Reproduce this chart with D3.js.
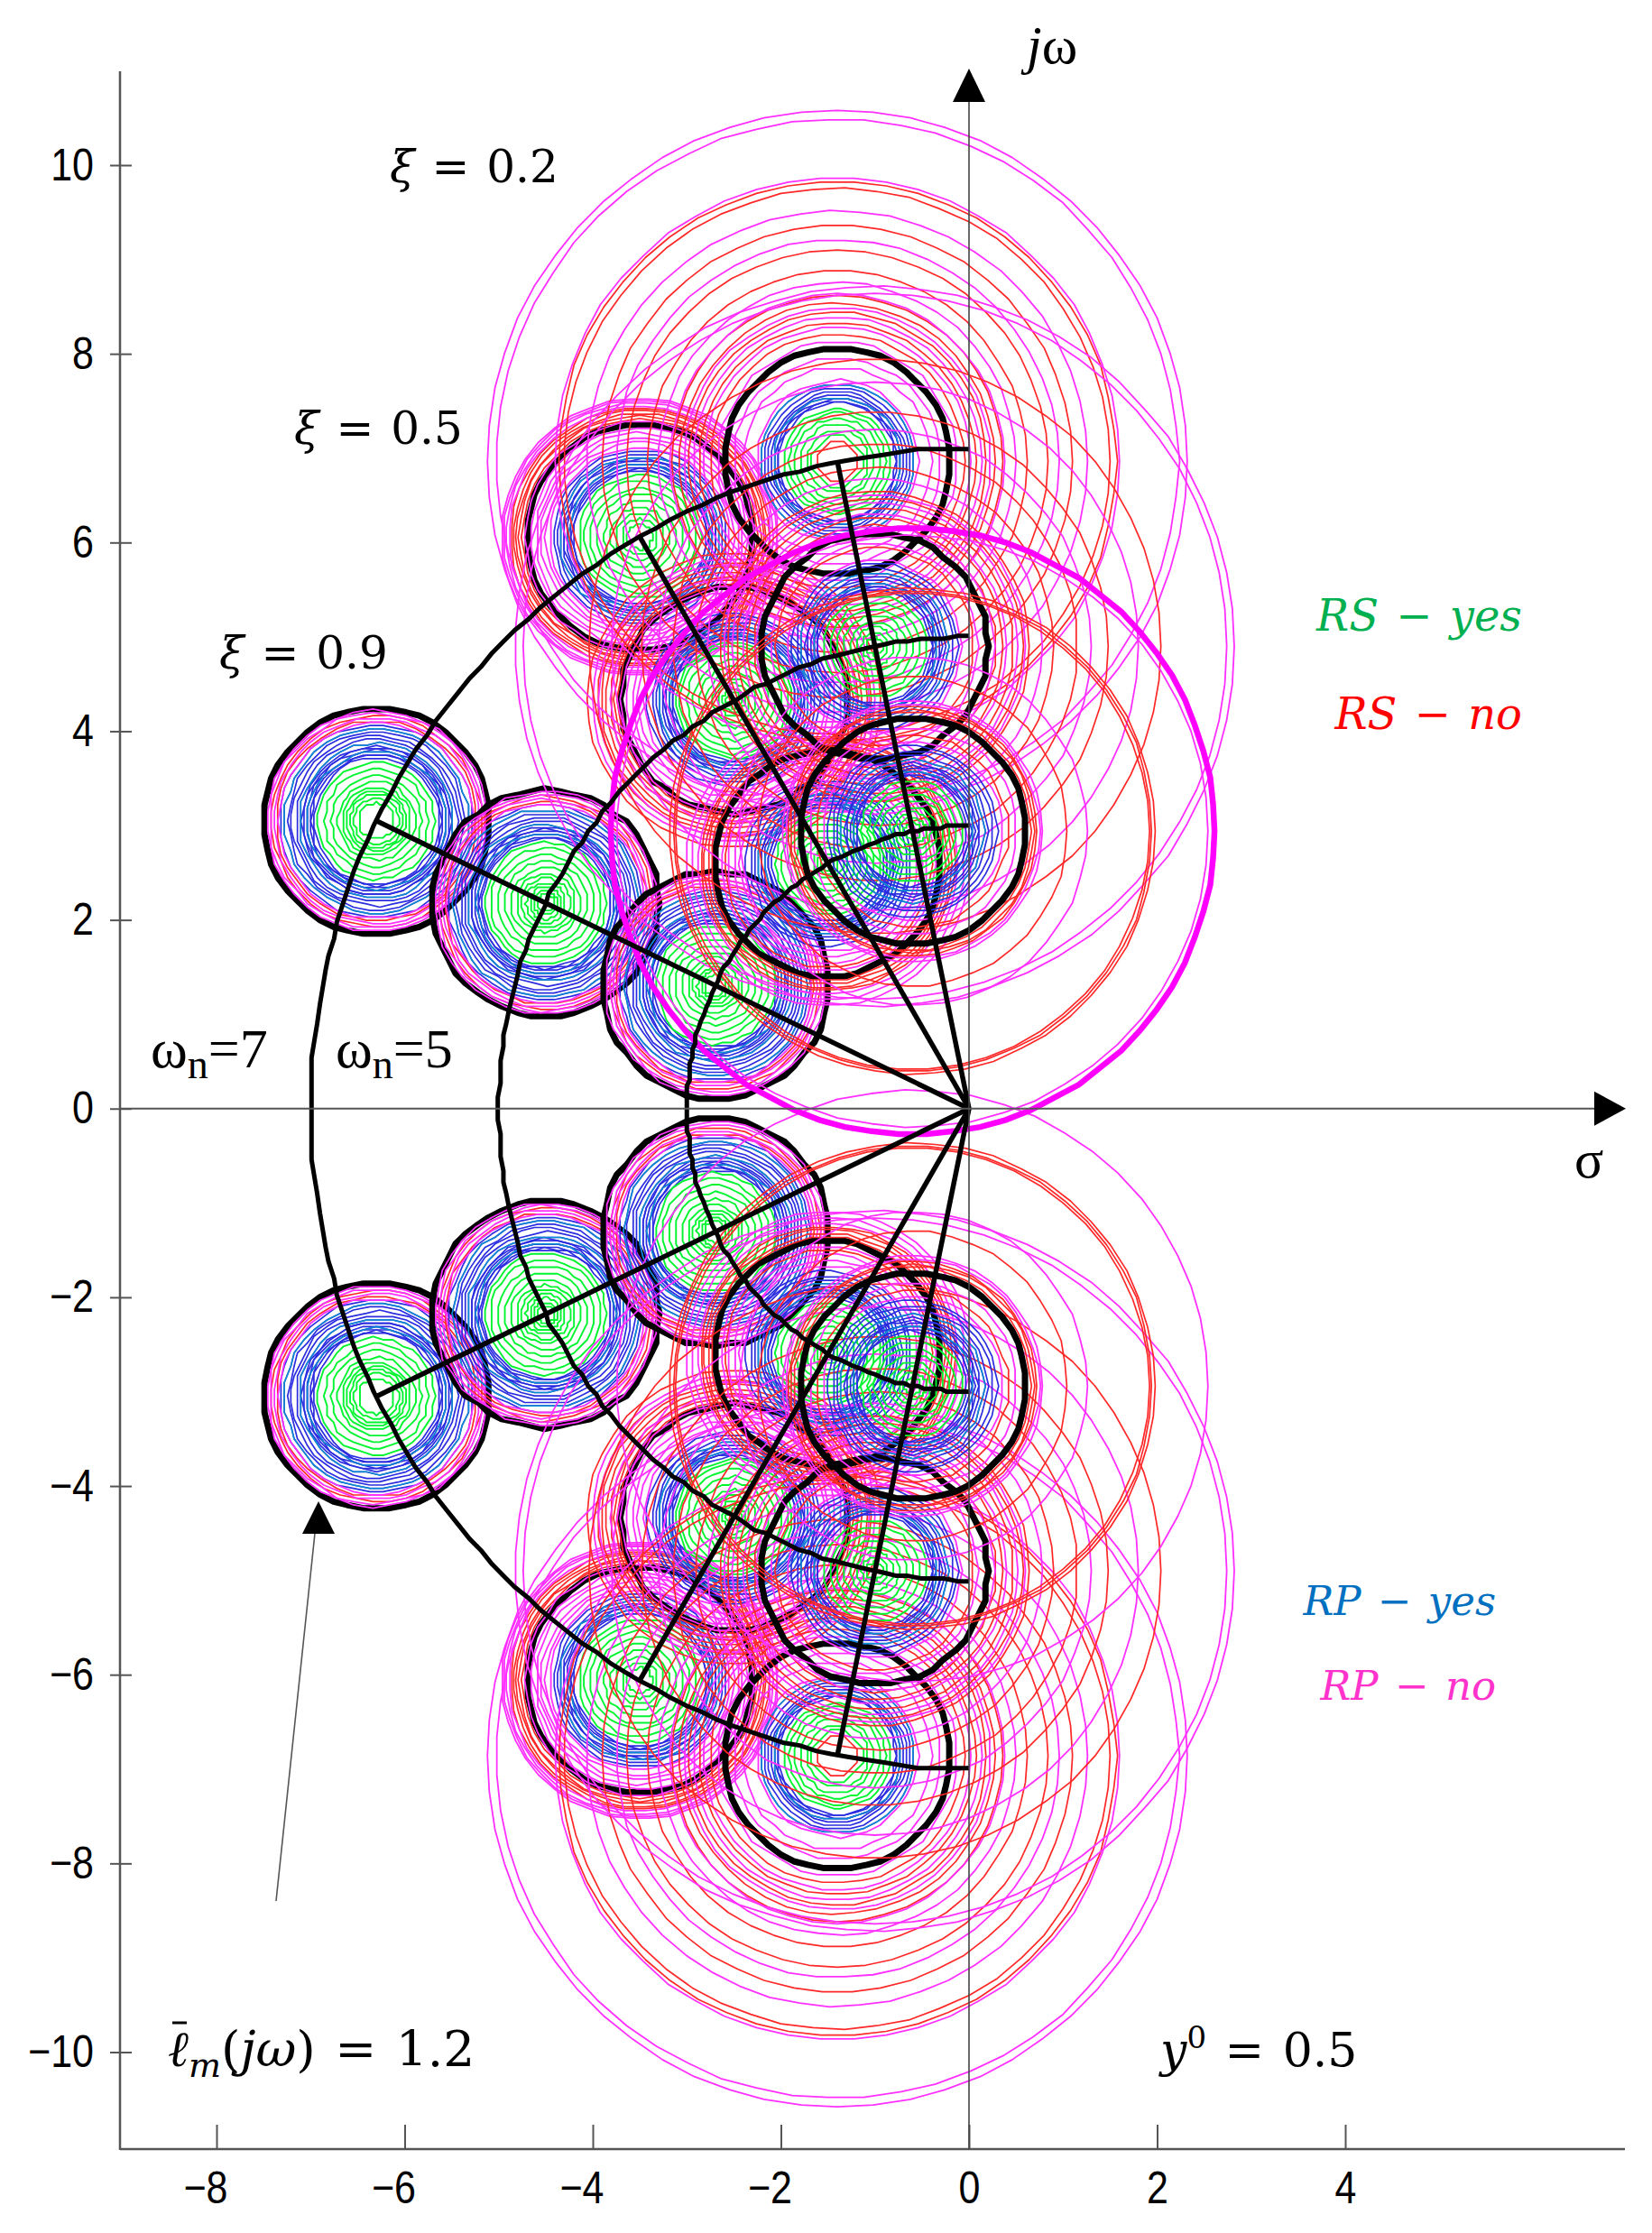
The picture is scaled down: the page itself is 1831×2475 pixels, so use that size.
<!DOCTYPE html>
<html>
<head>
<meta charset="utf-8">
<script src="https://cdn.jsdelivr.net/npm/d3@7"></script>
<style>
  html, body { margin: 0; background: #fff; }
  svg { display: block; }
  .tick text { font-family: "Liberation Sans", Arial, sans-serif; font-size: 50px; fill: #000; }
  .math { font-family: "DejaVu Serif", serif; }
  .times { font-family: "Liberation Serif", serif; }
</style>
</head>
<body>
<div id="chart"></div>
<script>
// upper half poles, the lower half is the mirror image
const poleRe = [-6.3, -4.5, -2.7, -3.5, -2.5, -1.5, -1.4, -1.0, -0.6];
const poleIm = [3.05, 2.18, 1.31, 6.06, 4.33, 2.60, 6.86, 4.90, 2.94];

const blackRadius = 1.2;

// radii of the ring families, one row per pole
const greenRings = [
  [.19, .24, .28, .32, .36, .41, .48, .55, .62],
  [.09, .13, .17, .21, .26, .31, .37, .44, .51, .58, .64],
  [.11, .15, .19, .24, .29, .35, .42, .49, .56, .63],
  [.13, .19, .25, .31, .38, .45, .52, .59, .65],
  [.08, .12, .17, .23, .29, .36, .43, .5, .57, .61],
  [.07, .11, .16, .22, .28, .35, .42, .49, .55],
  [.27, .33, .39, .45, .51, .56],
  [.09, .14, .2, .26, .33, .4, .47, .54],
  [.09, .14, .2, .26, .33, .4, .47, .54]
];
const blueRings = [
  [.67, .69, .71, .73, .75, .77, .79, .82, .86, .9, .94, .98, 1.02],
  [.68, .70, .72, .74, .76, .78, .80, .83, .87, .91, .95, .99, 1.03],
  [.66, .68, .70, .72, .74, .76, .78, .81, .85, .89, .93, .97, 1.01],
  [.7, .72, .74, .76, .78, .8, .82, .85, .88, .92],
  [.64, .66, .68, .70, .72, .74, .76, .79, .83, .87, .92],
  [.6, .62, .64, .66, .68, .70, .72, .75, .79, .83, .88],
  [.62, .64, .66, .68, .70, .73, .77, .81],
  [.6, .62, .64, .66, .68, .71, .74, .78, .83, .88],
  [.58, .60, .62, .64, .66, .69, .72, .76, .8, .85, .9]
];
const redRings = [
  [1.06, 1.12],
  [1.07, 1.13],
  [1.05, 1.11],
  [1.25, 1.28, 1.31, 1.34, 1.37],
  [1.23, 1.27, 1.31, 1.36, 1.41, 1.45, 1.56],
  [1.1, 1.24, 1.28, 1.32, 1.35],
  [.21, 1.35, 1.47, 1.58, 1.68, 1.76, 2.02, 2.24, 2.5, 2.9, 2.97],
  [1.05, 1.28, 1.36, 1.47, 1.57, 1.64, 1.9, 2.15, 2.48, 3.05],
  [1.02, 1.26, 1.29, 1.32, 1.64, 2.52, 2.55, 2.58]
];
const magentaRings = [
  [1.04, 1.09, 1.14, 1.17],
  [1.05, 1.1, 1.15, 1.18],
  [1.03, 1.08, 1.13, 1.17],
  [.95, 1.0, 1.05, 1.1, 1.15, 1.22, 1.39, 1.42, 1.45, 1.47],
  [.96, 1.02, 1.08, 1.14, 1.2, 1.3, 1.44, 1.5],
  [.94, 1.0, 1.06, 1.14, 1.38, 1.45, 1.51],
  [.86, 1.0, 1.1, 1.27, 1.42, 1.53, 1.63, 1.78, 1.9, 2.35, 2.66, 3.01, 3.63, 3.72],
  [.92, 1.1, 1.27, 1.4, 1.52, 1.6, 1.78, 2.3, 2.8, 3.74, 3.82],
  [.95, 1.1, 1.35, 1.38, 1.85, 3.14]
];

const omegaN = [7, 5, 3];
const thickRing = { re: -0.6, im: 2.94, r: 3.21 };
const xTicks = [-8, -6, -4, -2, 0, 2, 4];
const yTicks = [-10, -8, -6, -4, -2, 0, 2, 4, 6, 8, 10];

const colors = { green: '#00f530', blue: '#2c2ce0', teal: '#0a8fd0', red: '#ff2828', magenta: '#ff30ff' };

const width = 1831, height = 2475;
const x = d3.scaleLinear().domain([-8, 4]).range([240, 1491]);
const y = d3.scaleLinear().domain([-10, 10]).range([2274.5, 183]);

const svg = d3.select('#chart').append('svg')
  .attr('width', width).attr('height', height)
  .attr('viewBox', `0 0 ${width} ${height}`);

svg.append('rect').attr('width', width).attr('height', height).attr('fill', '#fff');

const line = d3.line().x(d => x(d[0])).y(d => y(d[1]));

// jagged polygon like the original plot, vertices snapped to a coarse grid
function ring(cx, cy, r, grid, n) {
  n = n || Math.round(30 + 8 * r);
  const snap = v => Math.round(v / grid) * grid;
  const pts = d3.range(n).map(i => {
    const a = 2 * Math.PI * i / n;
    return [snap(cx + r * Math.cos(a)), snap(cy + r * Math.sin(a))];
  });
  return line(pts) + 'Z';
}

function drawRings(g, cx, cy, radii, color, w) {
  g.selectAll(null).data(radii).enter().append('path')
    .attr('d', r => ring(cx, cy, r, r > 1.3 ? 0.02 : 0.035))
    .attr('fill', 'none').attr('stroke', color).attr('stroke-width', w)
    .attr('stroke-linejoin', 'round');
}

const plot = svg.append('g').attr('class', 'plot');

[1, -1].forEach(sign => {
  poleRe.forEach((re, i) => {
    const im = poleIm[i] * sign;
    plot.append('path').attr('d', ring(re, im, blackRadius, 0.035, 48))
      .attr('fill', 'none').attr('stroke', '#000').attr('stroke-width', 7)
      .attr('stroke-linejoin', 'round');
    const g = plot.append('g');
    drawRings(g, re, im, blueRings[i], colors.blue, 1.7);
    drawRings(g, re, im, blueRings[i].filter((r, k) => k % 4 === 3), colors.teal, 1.5);
    drawRings(g, re, im, redRings[i], colors.red, 1.7);
    drawRings(g, re, im, magentaRings[i], colors.magenta, 1.8);
    drawRings(g, re, im, greenRings[i], colors.green, 1.9);
  });
});

// only the upper half has the heavy ring
plot.append('path').attr('d', ring(thickRing.re, thickRing.im, thickRing.r, 0.015, 70))
  .attr('fill', 'none').attr('stroke', '#ff00ff').attr('stroke-width', 6.5);

// radial lines and omega_n arcs
const black = svg.append('g').attr('class', 'root-locus');
[1, -1].forEach(sign => {
  [0, 3, 6].forEach(i => {
    black.append('path').attr('d', line([[0, 0], [poleRe[i], poleIm[i] * sign]]))
      .attr('fill', 'none').attr('stroke', '#000').attr('stroke-width', 5.5);
  });
});
omegaN.forEach(w => {
  const snap = v => Math.round(v / 0.03) * 0.03;
  const pts = d3.range(0, 121).map(i => {
    const a = Math.PI / 2 + Math.PI * i / 120;
    return [snap(w * Math.cos(a)), snap(w * Math.sin(a))];
  });
  black.append('path').attr('d', line(pts))
    .attr('fill', 'none').attr('stroke', '#000').attr('stroke-width', 5)
    .attr('stroke-linejoin', 'round');
});

// axes
const gray = '#555';
const spineLeft = 133, spineBottom = 2382;
const fmt = d => String(d).replace('-', '\u2212');
const yAxis = svg.append('g').attr('transform', `translate(${spineLeft},0)`)
  .call(d3.axisLeft(y).tickValues(yTicks).tickSize(12).tickFormat(fmt));
yAxis.select('.domain').remove();
yAxis.selectAll('.tick line').attr('x1', -11).attr('x2', 13).attr('stroke', gray).attr('stroke-width', 2);
yAxis.selectAll('.tick text').attr('x', 0).attr('transform', 'translate(-29,0) scale(0.86,1)');

const xAxis = svg.append('g').attr('transform', `translate(0,${spineBottom})`)
  .call(d3.axisBottom(x).tickValues(xTicks).tickSizeInner(-27).tickSizeOuter(0).tickFormat(fmt));
xAxis.select('.domain').remove();
xAxis.selectAll('.tick line').attr('stroke', gray).attr('stroke-width', 2);
xAxis.selectAll('.tick text').attr('text-anchor', 'end').attr('x', 0).attr('y', 0).attr('dy', '0.71em')
  .attr('transform', 'translate(12,24) scale(0.86,1)');

svg.append('line').attr('x1', spineLeft).attr('x2', spineLeft).attr('y1', 79).attr('y2', spineBottom + 1)
  .attr('stroke', gray).attr('stroke-width', 2.5);
svg.append('line').attr('x1', spineLeft).attr('x2', 1801).attr('y1', spineBottom).attr('y2', spineBottom)
  .attr('stroke', gray).attr('stroke-width', 2.5);

// the sigma and j-omega axes with arrow heads
svg.append('line').attr('x1', x(0)).attr('x2', x(0)).attr('y1', 112).attr('y2', spineBottom)
  .attr('stroke', '#444').attr('stroke-width', 1.6);
svg.append('line').attr('x1', spineLeft).attr('x2', 1770).attr('y1', y(0)).attr('y2', y(0))
  .attr('stroke', gray).attr('stroke-width', 2.2);
svg.append('path').attr('d', `M${x(0)},76L${x(0) - 18},113L${x(0) + 18},113Z`).attr('fill', '#000');
svg.append('path').attr('d', `M1802,${y(0)}L1767,${y(0) - 19}L1767,${y(0) + 19}Z`).attr('fill', '#000');

// arrow pointing at the uncertainty circle
svg.append('line').attr('x1', 306).attr('y1', 2107).attr('x2', 350).attr('y2', 1690)
  .attr('stroke', '#555').attr('stroke-width', 1.6);
svg.append('path').attr('d', 'M353,1664L335,1700L371,1700Z').attr('fill', '#000');

// labels
function label(px, py, txt, opts) {
  const o = Object.assign({ cls: 'math', size: 48, fill: '#000', anchor: 'start', style: 'normal', ws: 0 }, opts);
  return svg.append('text').attr('class', o.cls).attr('x', px).attr('y', py)
    .attr('font-size', o.size).attr('fill', o.fill).attr('text-anchor', o.anchor)
    .attr('font-style', o.style).attr('word-spacing', o.ws).text(txt);
}
function zetaLabel(px, py, val) {
  const t = svg.append('text').attr('class', 'math').attr('x', px).attr('y', py)
    .attr('font-size', 50).attr('word-spacing', 3);
  t.append('tspan').attr('font-style', 'italic').text('\u03be');
  t.append('tspan').text(' = ' + val);
}
zetaLabel(432, 202, '0.2');
zetaLabel(326, 492, '0.5');
zetaLabel(243, 741, '0.9');

function wnLabel(px, val) {
  const t = svg.append('text').attr('class', 'times').attr('x', px).attr('y', 1183).attr('font-size', 62);
  t.append('tspan').text('\u03c9');
  t.append('tspan').attr('dy', 12).attr('font-size', 46).text('n');
  t.append('tspan').attr('dy', -12).text('=' + val);
}
wnLabel(167, 7);
wnLabel(372, 5);

const jw = svg.append('text').attr('class', 'times').attr('x', 1138).attr('y', 70).attr('font-size', 60);
jw.append('tspan').attr('font-style', 'italic').text('j');
jw.append('tspan').text('\u03c9');
label(1745, 1305, '\u03c3', { cls: 'times', size: 60 });

label(1687, 699, 'RS \u2212 yes', { style: 'italic', size: 48, fill: '#00b050', anchor: 'end', ws: 4 });
label(1687, 808, 'RS \u2212 no', { style: 'italic', size: 48, fill: '#ff0000', anchor: 'end', ws: 4 });
label(1658, 1790, 'RP \u2212 yes', { style: 'italic', size: 45, fill: '#0070c0', anchor: 'end', ws: 4 });
label(1658, 1884, 'RP \u2212 no', { style: 'italic', size: 45, fill: '#ff33cc', anchor: 'end', ws: 4 });

const y0 = svg.append('text').attr('class', 'math').attr('x', 1286).attr('y', 2290).attr('font-size', 52).attr('word-spacing', 4);
y0.append('tspan').attr('font-style', 'italic').text('y');
y0.append('tspan').attr('dy', -20).attr('font-size', 34).text('0');
y0.append('tspan').attr('dy', 20).text(' = 0.5');

const lm = svg.append('text').attr('class', 'math').attr('x', 186).attr('y', 2290).attr('font-size', 55).attr('word-spacing', 4);
lm.append('tspan').attr('font-style', 'italic').text('\u2113');
lm.append('tspan').attr('font-style', 'italic').attr('dy', 12).attr('font-size', 38).text('m');
lm.append('tspan').attr('dy', -12).text('(');
lm.append('tspan').attr('font-style', 'italic').text('j\u03c9');
lm.append('tspan').text(') = 1.2');
// bar over the l
svg.append('line').attr('x1', 191).attr('x2', 207).attr('y1', 2242).attr('y2', 2242)
  .attr('stroke', '#000').attr('stroke-width', 3);
</script>
</body>
</html>
